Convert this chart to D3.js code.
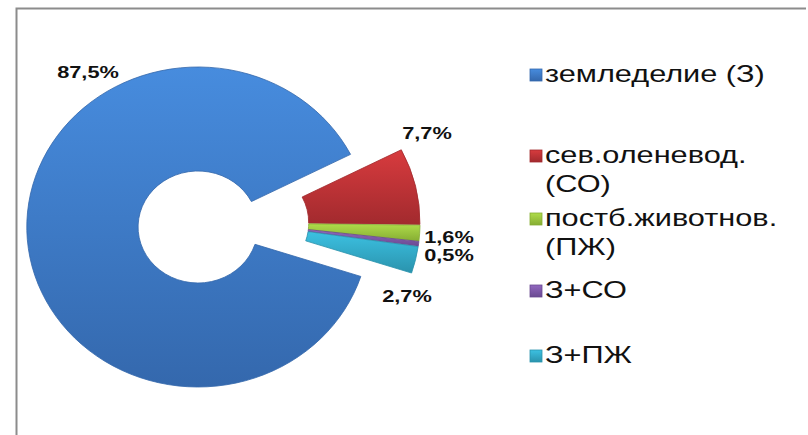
<!DOCTYPE html>
<html>
<head>
<meta charset="utf-8">
<script src="https://cdn.jsdelivr.net/npm/d3@7"></script>
<style>
  body { margin: 0; background: #fff; }
</style>
</head>
<body>
<div id="chart"></div>
<script>
// data
var categories = ["земледелие (З)", "сев.оленевод. (СО)", "постб.животнов. (ПЖ)", "З+СО", "З+ПЖ"];
var values = [87.5, 7.7, 1.6, 0.5, 2.7];
var valueLabels = ["87,5%", "7,7%", "1,6%", "0,5%", "2,7%"];
var legendLines = [["земледелие (З)"], ["сев.оленевод.", "(СО)"], ["постб.животнов.", "(ПЖ)"], ["З+СО"], ["З+ПЖ"]];

var colors = ["#4282cf", "#c9373a", "#a3cd45", "#8760b2", "#38b4d2"];
var darker = ["#3468ad", "#a22a2e", "#86ad33", "#6a4a91", "#2a93ad"];

var width = 808, height = 435;
var textStretch = 1.28; // the picture's text is wider than plain Arial

var svg = d3.select("#chart")
  .append("svg")
  .attr("width", width)
  .attr("height", height);

// border (only top and left visible in the picture)
svg.append("path")
  .attr("d", "M16.5," + height + "V8.5H806")
  .attr("fill", "none")
  .attr("stroke", "#8c8c8c")
  .attr("stroke-width", 2);

var defs = svg.append("defs");
colors.forEach(function(c, i) {
  var g = defs.append("linearGradient")
    .attr("id", "grad" + i)
    .attr("x1", 0).attr("y1", 0).attr("x2", 0).attr("y2", 1);
  g.append("stop").attr("offset", "0%").attr("stop-color", d3.color(c).brighter(0.2));
  g.append("stop").attr("offset", "100%").attr("stop-color", darker[i]);
});

// pie
var cx = 198, cy = 227, outerR = 160, innerR = 56, stretch = 1.07;
var startA = 108 * Math.PI / 180;

var pie = d3.pie()
  .sort(null)
  .startAngle(startA)
  .endAngle(startA + 2 * Math.PI)
  .value(function(d) { return d; });

var arc = d3.arc()
  .innerRadius(innerR)
  .outerRadius(outerR);

var arcs = pie(values);

var pieG = svg.append("g")
  .attr("transform", "translate(" + cx + "," + cy + ") scale(" + stretch + ",1)");

pieG.selectAll("path")
  .data(arcs)
  .enter()
  .append("path")
    .attr("d", arc)
    .attr("transform", function(d, i) {
      if (i === 0) return null;
      var mid = (d.startAngle + d.endAngle) / 2;
      var extra = 2.5;
      var dx = 45 + Math.sin(mid) * extra;
      var dy = -4 - Math.cos(mid) * extra;
      return "translate(" + dx + "," + dy + ")";
    })
    .attr("fill", function(d, i) { return "url(#grad" + i + ")"; })
    .attr("stroke", function(d, i) { return darker[i]; })
    .attr("stroke-width", 0.8);

// value labels
var labelPos = [[88, 72], [427, 133], [449, 237], [449, 255], [407, 296]];
svg.selectAll(".val")
  .data(valueLabels)
  .enter()
  .append("g")
    .attr("class", "val")
    .attr("transform", function(d, i) {
      return "translate(" + labelPos[i][0] + "," + labelPos[i][1] + ") scale(" + textStretch + ",1)";
    })
  .append("text")
    .attr("text-anchor", "middle")
    .attr("dy", "0.35em")
    .style("font", "bold 17px 'Liberation Sans', Arial, sans-serif")
    .style("fill", "#111")
    .text(function(d) { return d; });

// legend
var legendY = [74, 155, 218, 290, 355];
var legendX = 530;

var items = svg.selectAll(".legend-item")
  .data(legendLines)
  .enter()
  .append("g")
    .attr("class", "legend-item")
    .attr("transform", function(d, i) { return "translate(" + legendX + "," + legendY[i] + ")"; });

items.append("rect")
  .attr("x", 0)
  .attr("y", -5)
  .attr("width", 12)
  .attr("height", 12)
  .attr("fill", function(d, i) { return "url(#grad" + i + ")"; })
  .attr("stroke", function(d, i) { return darker[i]; })
  .attr("stroke-width", 0.8);

items.each(function(lines) {
  var t = d3.select(this).append("g")
    .attr("transform", "translate(15,0) scale(" + textStretch + ",1)")
    .append("text")
    .style("font", "24px 'Liberation Sans', Arial, sans-serif")
    .style("fill", "#111");
  lines.forEach(function(s, k) {
    t.append("tspan")
      .attr("x", 0)
      .attr("dy", k === 0 ? "0.35em" : "1.2em")
      .text(s);
  });
});
</script>
</body>
</html>
